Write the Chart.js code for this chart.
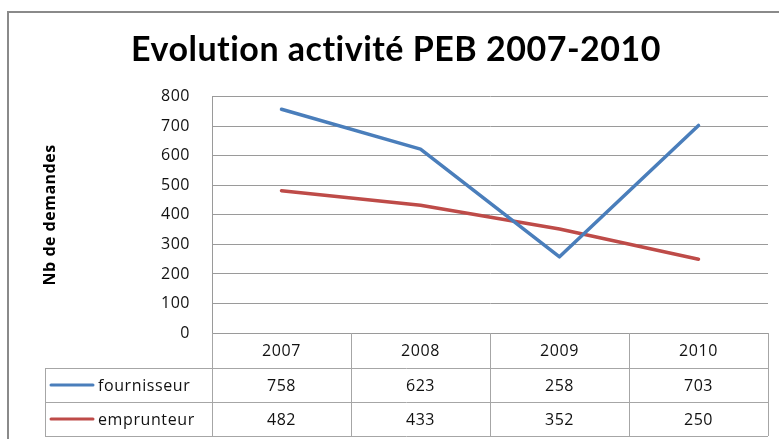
<!DOCTYPE html>
<html>
<head>
<meta charset="utf-8">
<script src="https://cdn.jsdelivr.net/npm/chart.js@4.4.1/dist/chart.umd.min.js"></script>
<style>
  html, body { margin: 0; padding: 0; background: #fff; }
  #wrap { width: 779px; height: 439px; }
</style>
</head>
<body>
<div id="wrap"><canvas id="pebChart" width="779" height="439"></canvas></div>
<script>
// Chart data
const years = ['2007', '2008', '2009', '2010'];
const fournisseur = [758, 623, 258, 703];
const emprunteur = [482, 433, 352, 250];
const yTicks = [0, 100, 200, 300, 400, 500, 600, 700, 800];

const BLUE = '#4a7ebb';
const RED = '#be4b48';
const GRID = '#9a9a9a';
const FONT = "'Open Sans', 'DejaVu Sans', sans-serif";

// Frame around the whole chart (cut off on the right and bottom like the original)
// also widens letters a bit, which keeps Lato from joining "ti"
const framePlugin = {
  id: 'frame',
  beforeDraw(chart) {
    const ctx = chart.ctx;
    ctx.letterSpacing = '0.5px';
    ctx.save();
    ctx.strokeStyle = '#8a8a8a';
    ctx.lineWidth = 2;
    ctx.strokeRect(8, 12, chart.width + 20, chart.height + 20);
    ctx.restore();
  },
  afterDraw(chart) {
    chart.ctx.letterSpacing = '0px';
  }
};

// Excel style data table under the plot
const dataTablePlugin = {
  id: 'dataTable',
  afterDraw(chart) {
    const ctx = chart.ctx;
    const area = chart.chartArea;
    const xScale = chart.scales.x;
    const colW = (area.right - area.left) / years.length;
    const headTop = area.bottom;
    const headH = 35;
    const rowH = 34;
    const tableLeft = 45;
    const rows = [
      { label: 'fournisseur', values: fournisseur, color: BLUE },
      { label: 'emprunteur', values: emprunteur, color: RED }
    ];
    const bottom = headTop + headH + rowH * rows.length;

    ctx.save();
    ctx.letterSpacing = '0.6px';
    ctx.strokeStyle = '#a6a6a6';
    ctx.lineWidth = 1;

    // vertical lines
    for (let i = 0; i <= years.length; i++) {
      const x = Math.round(area.left + i * colW) + 0.5;
      ctx.beginPath();
      ctx.moveTo(x, headTop);
      ctx.lineTo(x, bottom);
      ctx.stroke();
    }
    ctx.beginPath();
    ctx.moveTo(tableLeft + 0.5, headTop + headH);
    ctx.lineTo(tableLeft + 0.5, bottom);
    ctx.stroke();

    // horizontal lines
    for (let r = 0; r <= rows.length; r++) {
      const y = Math.round(headTop + headH + r * rowH) + 0.5;
      ctx.beginPath();
      ctx.moveTo(tableLeft, y);
      ctx.lineTo(area.right, y);
      ctx.stroke();
    }

    ctx.fillStyle = '#111';
    ctx.font = '16px ' + FONT;
    ctx.textAlign = 'center';
    ctx.textBaseline = 'middle';

    // header row: years
    years.forEach((yr, i) => {
      ctx.fillText(yr, xScale.getPixelForValue(i), headTop + headH / 2 + 1);
    });

    // series rows
    rows.forEach((row, r) => {
      const cy = headTop + headH + r * rowH + rowH / 2 + 1;
      ctx.textAlign = 'center';
      row.values.forEach((v, i) => {
        ctx.fillText(String(v), xScale.getPixelForValue(i), cy);
      });
      // legend key
      ctx.strokeStyle = row.color;
      ctx.lineWidth = 3;
      ctx.lineCap = 'round';
      ctx.beginPath();
      ctx.moveTo(51, cy - 1);
      ctx.lineTo(93, cy - 1);
      ctx.stroke();
      ctx.textAlign = 'left';
      ctx.fillText(row.label, 98, cy);
    });
    ctx.restore();
  }
};

const ctx = document.getElementById('pebChart').getContext('2d');
new Chart(ctx, {
  type: 'line',
  data: {
    labels: years,
    datasets: [
      {
        label: 'fournisseur',
        data: fournisseur,
        borderColor: BLUE,
        borderWidth: 3.5,
        borderCapStyle: 'round',
        borderJoinStyle: 'round',
        pointRadius: 0,
        tension: 0,
        fill: false
      },
      {
        label: 'emprunteur',
        data: emprunteur,
        borderColor: RED,
        borderWidth: 3.5,
        borderCapStyle: 'round',
        borderJoinStyle: 'round',
        pointRadius: 0,
        tension: 0,
        fill: false
      }
    ]
  },
  options: {
    responsive: false,
    animation: false,
    layout: { padding: { top: 12, left: 24, right: 11, bottom: 0 } },
    plugins: {
      legend: { display: false },
      tooltip: { enabled: false },
      title: {
        display: true,
        text: 'Evolution activité PEB 2007-2010',
        color: '#000',
        font: { family: "Lato, 'Open Sans', sans-serif", size: 34, weight: 'bold' },
        padding: { top: 18, bottom: 26 }
      }
    },
    scales: {
      x: {
        type: 'category',
        offset: true,
        grid: { display: false, drawTicks: false },
        border: { display: true, color: GRID },
        ticks: { display: false },
        afterFit(scale) { scale.height = 106; }
      },
      y: {
        min: 0,
        max: 800,
        afterBuildTicks(scale) { scale.ticks = yTicks.map(v => ({ value: v })); },
        grid: { color: GRID, drawTicks: false },
        border: { display: true, color: GRID },
        ticks: {
          padding: 22,
          color: '#111',
          font: { family: FONT, size: 16 }
        },
        title: {
          display: true,
          text: 'Nb de demandes',
          color: '#000',
          font: { family: FONT, size: 16, weight: 'bold' },
          padding: { top: 17, bottom: 0 }
        },
        afterFit(scale) { scale.width = 188; }
      }
    }
  },
  plugins: [framePlugin, dataTablePlugin]
});
</script>
</body>
</html>
